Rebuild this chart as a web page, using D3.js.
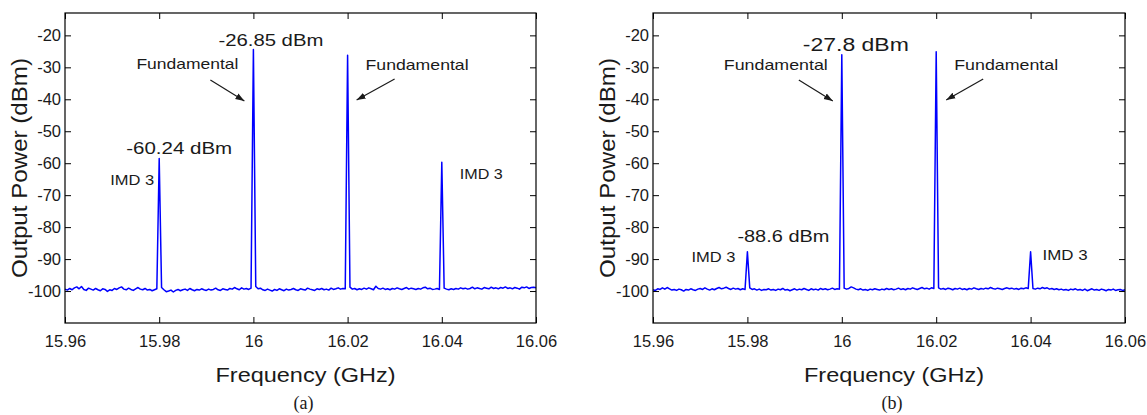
<!DOCTYPE html>
<html>
<head>
<meta charset="utf-8">
<script src="https://cdn.jsdelivr.net/npm/d3@7/dist/d3.min.js"></script>
<style>
  body { margin: 0; background: #fff; }
  svg text { font-family: "Liberation Sans", Arial, sans-serif; fill: #1a1a1a; }
</style>
</head>
<body>
<svg id="chart"></svg>
<script>
const w = 1147;
const h = 415;

// spectrum sampling grid (GHz)
const freqStart = 15.96;
const freqStep = 0.0005;

const xTicks = [15.96, 15.98, 16, 16.02, 16.04, 16.06];
const xTickLabels = ["15.96", "15.98", "16", "16.02", "16.04", "16.06"];
const yTicks = [-100, -90, -80, -70, -60, -50, -40, -30, -20];

// measured spectrum (a), dBm
const powerA = [
  -99.4, -99.7, -99.2, -99.6, -99.0, -98.7, -99.3, -98.6, -99.5, -99.8,
  -99.1, -99.4, -99.7, -99.2, -99.6, -99.9, -99.3, -99.5, -100.1, -99.6,
  -99.8, -99.2, -99.5, -99.0, -98.7, -99.4, -99.6, -99.1, -99.5, -99.8,
  -99.3, -98.9, -99.4, -99.6, -99.2, -99.7, -99.5, -99.9, -99.6, -99.3,
  -58.5,
  -98.9, -99.6, -100.2, -100.0, -99.7, -100.3, -99.8, -99.5, -99.9, -99.6,
  -99.4, -99.8, -99.2, -99.6, -99.9, -99.5, -99.7, -99.3, -99.6, -99.8,
  -99.4, -99.7, -99.5, -99.1, -99.6, -99.8, -99.3, -99.5, -99.7, -99.2,
  -99.4, -98.9, -99.3, -99.6, -99.0, -99.4, -99.2, -99.5, -99.1,
  -24.4,
  -98.6, -99.3, -99.1, -99.6, -99.8, -99.4, -99.7, -100.0, -99.5, -99.8,
  -99.3, -99.6, -99.9, -99.4, -99.7, -99.5, -99.2, -99.6, -99.8, -99.3,
  -99.5, -99.7, -99.1, -99.4, -99.6, -99.8, -99.3, -99.5, -99.2, -99.6,
  -99.4, -99.7, -99.1, -99.5, -99.3, -99.0, -99.4, -99.2, -99.3,
  -26.2,
  -98.8, -99.4, -99.2, -99.6, -99.3, -99.5, -99.1, -99.4, -99.0, -99.3,
  -99.6, -98.5, -99.2, -99.4, -99.1, -99.5, -99.3, -99.6, -99.2, -99.4,
  -99.0, -99.3, -99.5, -99.2, -98.9, -99.4, -99.1, -99.3, -99.5, -99.2,
  -99.4, -99.0, -98.8, -99.3, -99.1, -99.5, -99.4, -99.2, -99.5,
  -59.7,
  -99.1, -99.4, -99.6, -99.3, -99.5, -99.2, -99.4, -99.0, -99.3, -99.1,
  -99.4, -99.2, -98.8, -99.3, -99.0, -99.2, -99.4, -98.9, -99.1, -99.3,
  -98.8, -99.2, -99.0, -99.3, -98.9, -99.1, -98.7, -99.2, -99.0, -99.3,
  -98.9, -99.1, -99.4, -98.8, -99.0, -98.7, -99.2, -98.9, -98.8, -99.0
];

// measured spectrum (b), dBm
const powerB = [
  -99.6, -99.8, -99.3, -99.5, -99.0, -99.4, -98.9, -99.3, -99.7, -99.5,
  -99.8, -99.4, -99.6, -100.0, -99.5, -99.7, -99.3, -99.6, -99.8, -99.4,
  -99.2, -99.5, -99.0, -99.4, -99.7, -99.3, -99.6, -99.2, -98.9, -99.3,
  -99.1, -98.8, -99.2, -99.5, -99.1, -99.4, -99.2, -99.6, -99.3, -99.5,
  -87.7,
  -99.0, -99.5, -99.3, -99.7, -99.4, -99.8, -99.5, -99.6, -99.3, -99.7,
  -99.5, -99.8, -99.4, -99.6, -99.2, -99.7, -99.5, -99.9, -99.6, -99.3,
  -99.7, -99.4, -99.6, -99.2, -99.5, -99.8, -99.3, -99.6, -99.4, -99.7,
  -99.2, -99.5, -99.3, -99.6, -99.4, -99.1, -99.5, -99.3, -99.4,
  -26.1,
  -99.1, -99.4, -99.2, -98.7, -99.0, -99.4, -99.6, -99.3, -99.7, -99.5,
  -99.8, -99.4, -99.6, -99.3, -99.5, -99.7, -99.4, -99.6, -99.2, -99.5,
  -99.3, -99.6, -99.4, -99.1, -99.5, -99.3, -99.6, -99.2, -99.4, -99.0,
  -99.3, -99.5, -99.2, -98.9, -99.3, -99.1, -99.4, -99.0, -99.2,
  -25.1,
  -99.0, -99.4, -99.2, -99.5, -99.1, -99.3, -99.6, -99.2, -99.4, -99.1,
  -99.5, -99.3, -99.6, -99.2, -99.4, -99.0, -99.3, -99.5, -99.2, -99.4,
  -99.1, -99.3, -98.9, -99.2, -99.4, -99.1, -99.3, -99.5, -99.2, -99.0,
  -99.3, -99.1, -99.4, -99.2, -99.5, -99.1, -99.3, -99.0, -99.2,
  -87.7,
  -99.2, -99.4, -99.1, -99.3, -98.9, -99.2, -99.0, -99.4, -99.2, -99.5,
  -99.3, -99.6, -99.4, -99.7, -99.5, -99.8, -99.4, -99.6, -99.3, -99.7,
  -99.5, -99.8, -99.4, -99.9, -99.6, -99.3, -99.7, -99.5, -99.8, -99.4,
  -99.6, -99.9, -99.5, -99.7, -99.4, -99.8, -99.6, -99.5, -99.8, -99.6
];

// tone frequencies: IMD3 low, fundamental 1, fundamental 2, IMD3 high
const toneFreqs = [15.98, 16, 16.02, 16.04];
const peakLabelsA = ["-60.24 dBm", "-26.85 dBm"];
const peakLabelsB = ["-88.6 dBm", "-27.8 dBm"];

const plotTop = 13;
const plotBottom = 323;

var chart = d3.select("#chart")
  .attr("width", w)
  .attr("height", h);

chart.append("defs").append("marker")
  .attr("id", "arrowhead")
  .attr("viewBox", "0 0 10 10")
  .attr("refX", 10)
  .attr("refY", 5)
  .attr("markerUnits", "userSpaceOnUse")
  .attr("markerWidth", 9)
  .attr("markerHeight", 9)
  .attr("orient", "auto")
  .append("path")
  .attr("d", "M0,1.5L10,5L0,8.5Z")
  .attr("fill", "#1a1a1a");

function styleAxis(g) {
  g.select(".domain").remove();
  g.selectAll(".tick line").attr("stroke", "#000").attr("stroke-width", 1);
  g.selectAll(".tick text").style("font-size", "16.5px").attr("fill", "#1a1a1a");
}

function label(g, text, x, y, len, size) {
  g.append("text")
    .attr("x", x)
    .attr("y", y)
    .attr("textLength", len)
    .attr("lengthAdjust", "spacingAndGlyphs")
    .style("font-size", size + "px")
    .text(text);
}

function arrow(g, x1, y1, x2, y2) {
  g.append("line")
    .attr("x1", x1).attr("y1", y1)
    .attr("x2", x2).attr("y2", y2)
    .attr("stroke", "#1a1a1a")
    .attr("stroke-width", 1.2)
    .attr("marker-end", "url(#arrowhead)");
}

function drawPanel(left, right, power, caption) {
  const xScale = d3.scaleLinear().domain([15.96, 16.06]).range([left, right]);
  const yScale = d3.scaleLinear().domain([-110, -13]).range([plotBottom, plotTop]);
  const g = chart.append("g");

  const pts = power.map((p, i) => [freqStart + i * freqStep, p]);
  g.append("path")
    .datum(pts)
    .attr("fill", "none")
    .attr("stroke", "#0000ff")
    .attr("stroke-width", 1.5)
    .attr("stroke-linejoin", "round")
    .attr("d", d3.line().x(d => xScale(d[0])).y(d => yScale(d[1])));

  g.append("g")
    .attr("transform", `translate(0, ${plotBottom})`)
    .call(d3.axisBottom(xScale).tickValues(xTicks).tickFormat((d, i) => xTickLabels[i])
      .tickSizeInner(-6).tickSizeOuter(0))
    .call(styleAxis)
    .selectAll(".tick text").attr("y", 24).attr("dy", null);

  g.append("g")
    .attr("transform", `translate(0, ${plotTop})`)
    .call(d3.axisTop(xScale).tickValues(xTicks).tickFormat("").tickSizeInner(-6).tickSizeOuter(0))
    .call(styleAxis);

  g.append("g")
    .attr("transform", `translate(${left}, 0)`)
    .call(d3.axisLeft(yScale).tickValues(yTicks).tickFormat(d => String(d))
      .tickSizeInner(-6).tickSizeOuter(0).tickPadding(4))
    .call(styleAxis);

  g.append("g")
    .attr("transform", `translate(${right}, 0)`)
    .call(d3.axisRight(yScale).tickValues(yTicks).tickFormat("").tickSizeInner(-6).tickSizeOuter(0))
    .call(styleAxis);

  g.append("rect")
    .attr("x", left).attr("y", plotTop)
    .attr("width", right - left).attr("height", plotBottom - plotTop)
    .attr("fill", "none").attr("stroke", "#000").attr("stroke-width", 1.2);

  const mid = (left + right) / 2;
  g.append("text")
    .attr("x", mid + 5).attr("y", 382)
    .attr("text-anchor", "middle")
    .attr("textLength", 180).attr("lengthAdjust", "spacingAndGlyphs")
    .style("font-size", "21px")
    .text("Frequency (GHz)");

  g.append("text")
    .attr("transform", `translate(${left - 38}, ${(plotTop + plotBottom) / 2}) rotate(-90)`)
    .attr("text-anchor", "middle")
    .attr("textLength", 220).attr("lengthAdjust", "spacingAndGlyphs")
    .style("font-size", "22px")
    .text("Output Power (dBm)");

  g.append("text")
    .attr("x", mid + 3).attr("y", 409)
    .attr("text-anchor", "middle")
    .style("font-family", "'Liberation Serif', 'Times New Roman', serif")
    .style("font-size", "18px")
    .text(caption);

  return xScale;
}

// panel (a)
const xA = drawPanel(65, 536, powerA, "(a)");
const gA = chart.append("g");
label(gA, peakLabelsA[1], xA(toneFreqs[1]) - 35, 46, 105, 16);
label(gA, "Fundamental", xA(toneFreqs[1]) - 117, 69, 102, 15);
arrow(gA, xA(toneFreqs[1]) - 43, 80, xA(toneFreqs[1]) - 9, 101);
label(gA, peakLabelsA[0], xA(toneFreqs[0]) - 33, 154, 106, 16);
label(gA, "IMD 3", xA(toneFreqs[0]) - 49, 185, 44, 15);
label(gA, "Fundamental", xA(toneFreqs[2]) + 18, 70, 103, 15);
arrow(gA, xA(toneFreqs[2]) + 47, 79, xA(toneFreqs[2]) + 9, 100);
label(gA, "IMD 3", xA(toneFreqs[3]) + 18, 179, 43, 15);

// panel (b)
const xB = drawPanel(653, 1125, powerB, "(b)");
const gB = chart.append("g");
label(gB, peakLabelsB[1], xB(toneFreqs[1]) - 39, 51, 106, 18);
label(gB, "Fundamental", xB(toneFreqs[1]) - 118, 70, 104, 15);
arrow(gB, xB(toneFreqs[1]) - 43, 80, xB(toneFreqs[1]) - 9, 101);
label(gB, peakLabelsB[0], xB(toneFreqs[0]) - 10, 242, 92, 16);
label(gB, "IMD 3", xB(toneFreqs[0]) - 56, 262, 44, 15);
label(gB, "Fundamental", xB(toneFreqs[2]) + 18, 70, 104, 15);
arrow(gB, xB(toneFreqs[2]) + 47, 79, xB(toneFreqs[2]) + 10, 100);
label(gB, "IMD 3", xB(toneFreqs[3]) + 12, 260, 45, 15);
</script>
</body>
</html>
